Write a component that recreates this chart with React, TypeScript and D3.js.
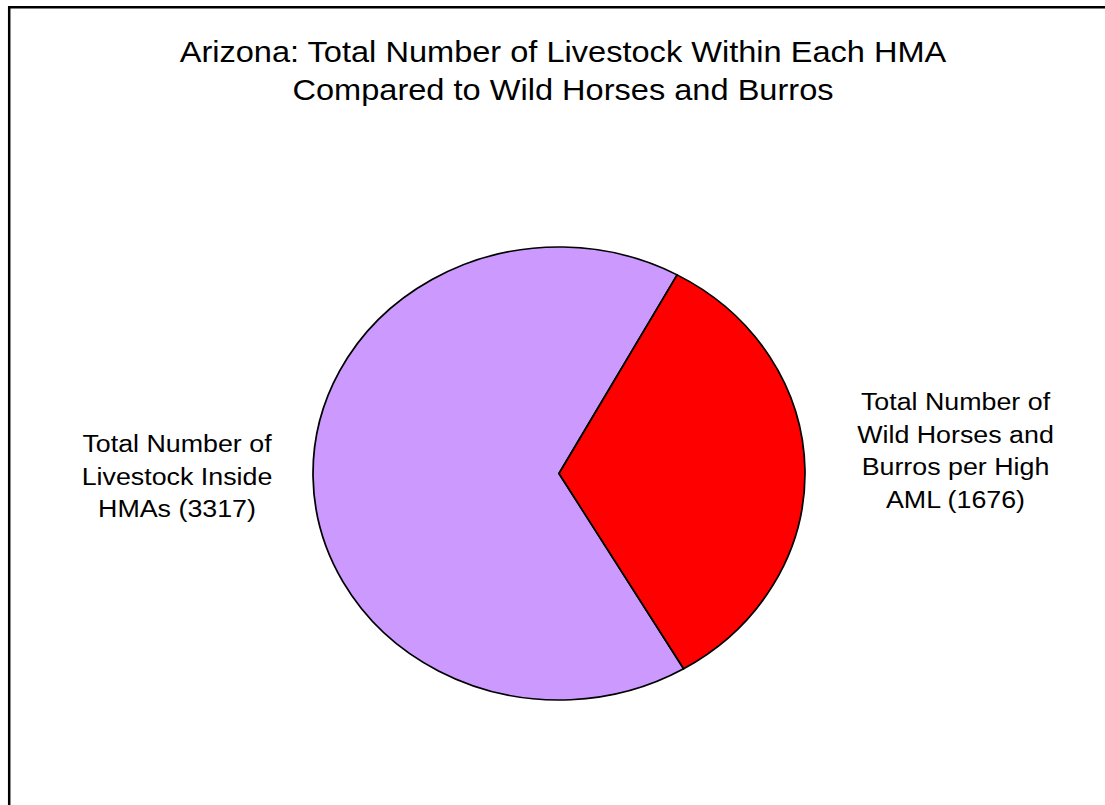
import React from "react";
import * as d3 from "d3";

const titleLines: string[] = [
  "Arizona: Total Number of Livestock Within Each HMA",
  "Compared to Wild Horses and Burros",
];
const categories: string[] = [
  "Total Number of Livestock Inside HMAs",
  "Total Number of Wild Horses and Burros per High AML",
];
const values: number[] = [3317, 1676];
const colors: string[] = ["#CC99FF", "#FF0000"];
const labelLines: string[][] = [
  ["Total Number of", "Livestock Inside", "HMAs (3317)"],
  ["Total Number of", "Wild Horses and", "Burros per High", "AML (1676)"],
];

const W = 1105;
const H = 805;
const SX = 1.086;
const FONT = "'Liberation Sans', Arial, Helvetica, sans-serif";

export default function App() {
  const cx = 559;
  const cy = 473.5;
  const r = 226.5;
  const start = (149.55 * Math.PI) / 180;
  const pie = d3
    .pie<number>()
    .sort(null)
    .value((d) => d)
    .startAngle(start)
    .endAngle(start + 2 * Math.PI);
  const arcs = pie(values);
  const arc = d3.arc<d3.PieArcDatum<number>>().innerRadius(0).outerRadius(r);

  const labelPos = [
    { x: 177, y: 452 },
    { x: 955.5, y: 410 },
  ];
  const labelStep = 32.7;

  return (
    <svg
      width={W}
      height={H}
      style={{ position: "absolute", left: 0, top: 0, background: "#fff" }}
    >
      <rect x={0} y={0} width={W} height={H} fill="#fff" />
      <path
        d={`M9.2,${H + 5} L9.2,7.3 L${W + 5},7.3`}
        fill="none"
        stroke="#000"
        strokeWidth={2.5}
      />
      <g fontFamily={FONT} fill="#000">
        {titleLines.map((t, i) => (
          <text
            key={i}
            transform={`translate(563,${61.7 + i * 37.8}) scale(${SX},1)`}
            textAnchor="middle"
            fontSize={30}
          >
            {t}
          </text>
        ))}
      </g>
      <g transform={`translate(${cx},${cy}) scale(${SX},1)`}>
        {arcs.map((a, i) => (
          <path
            key={i}
            d={arc(a) || ""}
            fill={colors[i]}
            stroke="#000"
            strokeWidth={1.6}
            strokeLinejoin="round"
          >
            <title>{`${categories[i]}: ${values[i]}`}</title>
          </path>
        ))}
      </g>
      <g fontFamily={FONT} fill="#000">
        {labelLines.map((lines, i) =>
          lines.map((l, j) => (
            <text
              key={`${i}-${j}`}
              transform={`translate(${labelPos[i].x},${labelPos[i].y + j * labelStep}) scale(${SX},1)`}
              textAnchor="middle"
              fontSize={24.7}
            >
              {l}
            </text>
          ))
        )}
      </g>
    </svg>
  );
}
